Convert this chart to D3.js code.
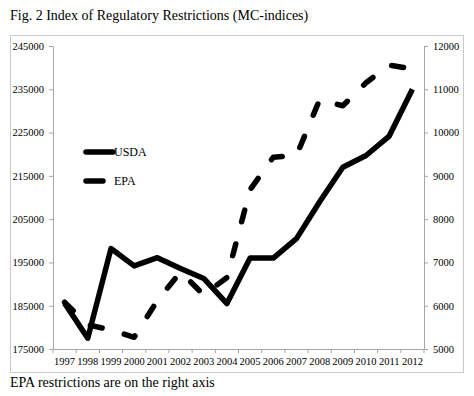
<!DOCTYPE html>
<html lang="en">
<head>
<meta charset="utf-8" />
<title>Index of Regulatory Restrictions</title>
<style>
    body { margin: 0; background: #fff; }
    svg text { font-family: "Liberation Serif", "Times New Roman", serif; fill: #000; }
    .axis path, .axis line { stroke: #a6a6a6; }
</style>
<script src="https://cdn.jsdelivr.net/npm/d3@7/dist/d3.min.js"></script>
</head>
<body>
<script>
var years = ['1997','1998','1999','2000','2001','2002','2003','2004',
             '2005','2006','2007','2008','2009','2010','2011','2012'];
// USDA on the left axis
var usda = [185600, 177500, 198200, 194200, 196100, 193600, 191300, 185500,
            196000, 196000, 200500, 209000, 217000, 219700, 224200, 235000];
// EPA on the right axis
var epa = [6080, 5560, 5440, 5270, 6120, 6780, 6250, 6650,
           8680, 9430, 9470, 10760, 10620, 11150, 11560, 11470];
var leftTicks = [175000, 185000, 195000, 205000, 215000, 225000, 235000, 245000];
var rightTicks = [5000, 6000, 7000, 8000, 9000, 10000, 11000, 12000];

var width = 474, height = 396;
var plot = {left: 53, right: 424, top: 46, bottom: 349};
var serif = '"Liberation Serif", "Times New Roman", serif';

var svg = d3.select('body').append('svg')
    .attr('width', width)
    .attr('height', height);

svg.append('text')
    .attr('x', 10).attr('y', 20)
    .style('font-size', '14px')
    .text('Fig. 2 Index of Regulatory Restrictions (MC-indices)');

// chart frame
svg.append('rect')
    .attr('x', 10.5).attr('y', 35.5)
    .attr('width', 453).attr('height', 337)
    .attr('fill', 'none')
    .attr('stroke', '#c8c8c8');

var x = d3.scaleBand().domain(years).range([plot.left, plot.right]);
var yL = d3.scaleLinear().domain([175000, 245000]).range([plot.bottom, plot.top]);
var yR = d3.scaleLinear().domain([5000, 12000]).range([plot.bottom, plot.top]);

function styleAxis(g) {
    g.attr('font-family', serif).attr('font-size', 10);
    g.selectAll('text').style('font-family', serif).style('font-size', '10.5px');
}

svg.append('g').attr('class', 'axis')
    .attr('transform', 'translate(' + plot.left + ',0)')
    .call(d3.axisLeft(yL).tickValues(leftTicks).tickFormat(d3.format('d'))
        .tickSize(4).tickSizeOuter(0).tickPadding(5))
    .call(styleAxis);

svg.append('g').attr('class', 'axis')
    .attr('transform', 'translate(' + plot.right + ',0)')
    .call(d3.axisRight(yR).tickValues(rightTicks).tickFormat(d3.format('d'))
        .tickSize(4).tickSizeOuter(0).tickPadding(5))
    .call(styleAxis);

var xAxis = svg.append('g').attr('class', 'axis')
    .attr('transform', 'translate(0,' + plot.bottom + ')')
    .call(d3.axisBottom(x).tickSize(0).tickPadding(9))
    .call(styleAxis);

// category boundary ticks
xAxis.selectAll('line.bound')
    .data(years.concat(['end']))
    .enter().append('line')
    .attr('class', 'bound')
    .attr('x1', function(d, i) { return plot.left + i * x.step(); })
    .attr('x2', function(d, i) { return plot.left + i * x.step(); })
    .attr('y1', 0).attr('y2', 4);

var cx = function(d, i) { return x(years[i]) + x.bandwidth() / 2; };

svg.append('path')
    .datum(usda)
    .attr('fill', 'none')
    .attr('stroke', '#000')
    .attr('stroke-width', 5.5)
    .attr('stroke-linejoin', 'round')
    .attr('d', d3.line().x(cx).y(function(d) { return yL(d); }));

svg.append('path')
    .datum(epa)
    .attr('fill', 'none')
    .attr('stroke', '#000')
    .attr('stroke-width', 5.5)
    .attr('stroke-linecap', 'round')
    .attr('stroke-linejoin', 'round')
    .attr('stroke-dasharray', '12,23')
    .attr('d', d3.line().x(cx).y(function(d) { return yR(d); }));

// legend
var legend = [
    {name: 'USDA', y: 152, x2: 113},
    {name: 'EPA', y: 181, x2: 103}
];
legend.forEach(function(l) {
    svg.append('line')
        .attr('x1', 86).attr('x2', l.x2)
        .attr('y1', l.y).attr('y2', l.y)
        .attr('stroke', '#000')
        .attr('stroke-width', 5.5)
        .attr('stroke-linecap', 'round');
    svg.append('text')
        .attr('x', 114).attr('y', l.y + 4)
        .style('font-size', '12px')
        .text(l.name);
});

svg.append('text')
    .attr('x', 10).attr('y', 387)
    .style('font-size', '14px')
    .text('EPA restrictions are on the right axis');
</script>
</body>
</html>
